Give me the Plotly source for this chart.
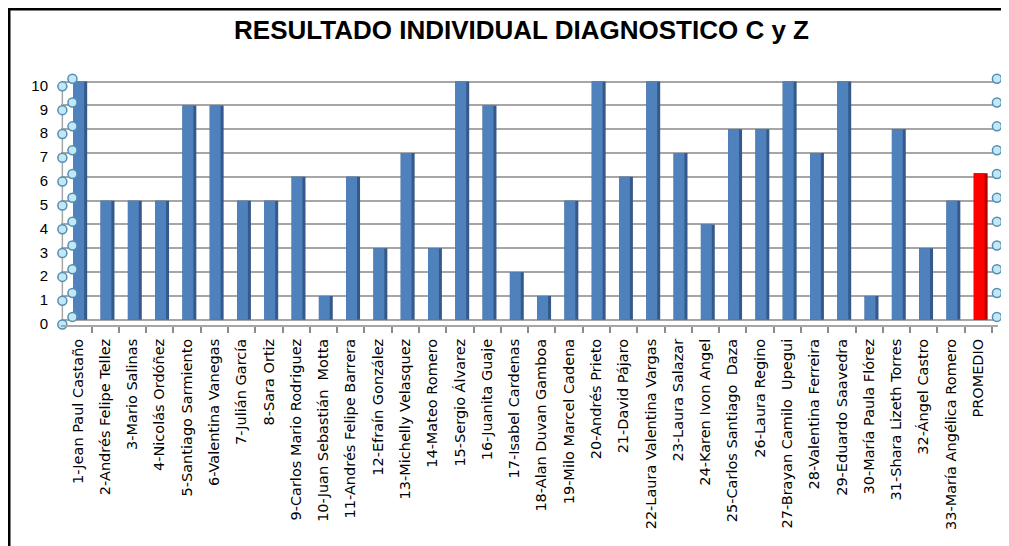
import plotly.graph_objects as go

names = [
    "1-Jean Paul Castaño", "2-Andrés Felipe Tellez", "3-Mario Salinas", "4-Nicolás Ordóñez",
    "5-Santiago Sarmiento", "6-Valentina Vanegas", "7-Julián García", "8-Sara Ortiz",
    "9-Carlos Mario Rodriguez", "10-Juan Sebastián  Motta", "11-Andrés Felipe Barrera",
    "12-Efraín González", "13-Michelly Velasquez", "14-Mateo Romero", "15-Sergio Álvarez",
    "16-Juanita Guaje", "17-Isabel Cardenas", "18-Alan Duvan Gamboa", "19-Milo Marcel Cadena",
    "20-Andrés Prieto", "21-David Pájaro", "22-Laura Valentina Vargas", "23-Laura Salazar",
    "24-Karen Ivon Angel", "25-Carlos Santiago  Daza", "26-Laura Regino",
    "27-Brayan Camilo  Upegui", "28-Valentina Ferreira", "29-Eduardo Saavedra",
    "30-María Paula Flórez", "31-Shara Lizeth Torres", "32-Ángel Castro",
    "33-María Angélica Romero", "PROMEDIO",
]
scores = [10, 5, 5, 5, 9, 9, 5, 5, 6, 1, 6, 3, 7, 3, 10, 9, 2, 1, 5, 10, 6, 10, 7, 4, 8, 8,
          10, 7, 10, 1, 8, 3, 5]
promedio = round(sum(scores) / len(scores), 2)
values = scores + [promedio]
y_ticks = list(range(0, 11))

positions = list(range(len(names)))
front_colors = ["#4F81BD"] * len(scores) + ["#FF0000"]
side_colors = ["#35598A"] * len(scores) + ["#B00000"]

fig = go.Figure()
# darker side face (3D look)
fig.add_trace(go.Bar(x=positions, y=values, marker=dict(color=side_colors, line=dict(width=0)),
                     width=0.51, offset=-0.17, hoverinfo="skip", showlegend=False))
# front face
fig.add_trace(go.Bar(x=positions, y=values, marker=dict(color=front_colors, line=dict(width=0)),
                     width=0.40, offset=-0.17, showlegend=False, hovertext=names))

circle = dict(symbol="circle", size=9, color="#C6E7F2", line=dict(color="#4F8FB8", width=1.5))
left = -0.5
right = len(names) - 0.5
# axis decoration circles (front-left, back-left, right)
for xs, dy in ((left - 0.07, -0.2), (left + 0.3, 0.12), (right + 0.18, 0.12)):
    fig.add_trace(go.Scatter(x=[xs] * len(y_ticks), y=[v + dy for v in y_ticks],
                             mode="markers", marker=circle, cliponaxis=False,
                             hoverinfo="skip", showlegend=False))

fig.update_layout(
    width=1001, height=538,
    margin=dict(l=53, r=11, t=70, b=221),
    paper_bgcolor="white", plot_bgcolor="white",
    barmode="overlay",
    title=dict(text="<b>RESULTADO INDIVIDUAL DIAGNOSTICO C y Z</b>", x=0.513, xanchor="center",
               y=0.96, yanchor="middle",
               font=dict(family="Liberation Sans", size=26, color="black")),
    font=dict(family="DejaVu Sans", color="black"),
    xaxis=dict(range=[left - 0.12, right + 0.22], tickmode="array", tickvals=positions,
               ticktext=names, tickangle=-90, ticks="", showgrid=False, zeroline=False,
               showline=True, linecolor="#A6A6A6", linewidth=2,
               tickfont=dict(size=14.5, color="black"), ticklabelstandoff=6,
               minor=dict(tickmode="array", tickvals=[p + 0.5 for p in positions],
                          ticks="outside", ticklen=6, tickcolor="#8C8C8C", tickwidth=1.5,
                          showgrid=False)),
    yaxis=dict(range=[-0.22, 10.15], tickvals=y_ticks, showgrid=True, gridcolor="#A6A6A6",
               gridwidth=2, zeroline=False, showline=False, ticks="",
               tickfont=dict(family="Liberation Sans", size=15, color="black"),
               ticklabelstandoff=12, ticklabelshift=4),
    shapes=[
        dict(type="line", xref="paper", yref="paper", x0=-0.0555, x1=-0.0555, y0=1.285,
             y1=-1.0, line=dict(color="black", width=3)),
        dict(type="line", xref="paper", yref="paper", x0=-0.0555, x1=1.05, y0=1.279, y1=1.279,
             line=dict(color="black", width=3)),
        dict(type="line", xref="x", yref="y", x0=left - 0.07, x1=left - 0.07, y0=-0.2,
             y1=9.8, line=dict(color="#A6A6A6", width=1.5), layer="below"),
    ],
)

fig.write_html("out.html")
